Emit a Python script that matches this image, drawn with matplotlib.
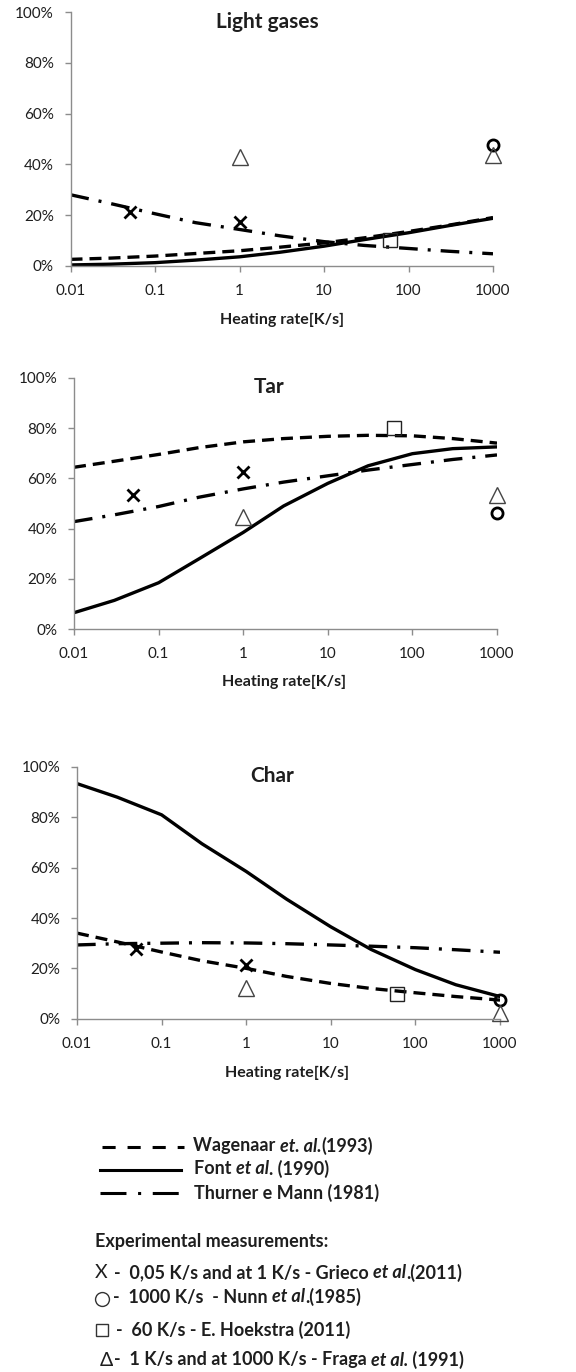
import matplotlib
matplotlib.use("Agg")
import matplotlib.pyplot as plt
from matplotlib.ticker import FixedLocator, FixedFormatter

plt.rcParams['font.family'] = ['Lato', 'DejaVu Sans']

W, H = 576, 1372

# heating rates (K/s) where the model curves are given
rates = [0.01, 0.03, 0.1, 0.3, 1, 3, 10, 30, 100, 300, 1000]

# ---------------------- model curves (fraction of product) ----------------------
gas_wagenaar = [2.5, 3.0, 3.8, 4.8, 5.9, 7.3, 9.0, 11.0, 13.5, 16.0, 19.0]
gas_font = [0.3, 0.6, 1.2, 2.2, 3.5, 5.3, 7.7, 10.3, 13.0, 15.8, 18.7]
gas_thurner = [28.0, 24.5, 20.5, 17.0, 14.3, 11.8, 9.5, 8.0, 6.8, 5.7, 4.7]

tar_wagenaar = [64.4, 66.8, 69.5, 72.2, 74.5, 75.8, 76.7, 77.1, 76.9, 75.8, 74.0]
tar_font = [6.6, 11.5, 18.5, 28.0, 38.5, 49.0, 58.0, 65.0, 69.8, 71.8, 72.5]
tar_thurner = [42.8, 45.5, 48.8, 52.5, 55.8, 58.5, 61.0, 63.3, 65.5, 67.5, 69.3]

char_wagenaar = [34.0, 30.5, 26.5, 23.0, 20.0, 16.8, 14.0, 12.0, 10.3, 8.8, 7.4]
char_font = [93.4, 88.0, 81.0, 69.5, 58.5, 47.5, 36.5, 27.5, 19.5, 13.5, 8.8]
char_thurner = [29.3, 29.8, 30.0, 30.2, 30.1, 29.8, 29.3, 28.8, 28.2, 27.4, 26.4]

# ---------------------- experimental points ----------------------
grieco_rates = [0.05, 1]
grieco_gas = [21.0, 17.2]
grieco_tar = [53.4, 62.4]
grieco_char = [27.6, 21.4]

nunn_rates = [1000]
nunn_gas = [47.7]
nunn_tar = [46.4]
nunn_char = [7.4]

hoekstra_rates = [60]
hoekstra_gas = [10.0]
hoekstra_tar = [80.0]
hoekstra_char = [9.8]

fraga_rates = [1, 1000]
fraga_gas = [43.0, 43.8]
fraga_tar = [44.8, 53.4]
fraga_char = [12.0, 2.1]

rate_ticks = [0.01, 0.1, 1, 10, 100, 1000]
rate_labels = ["0.01", "0.1", "1", "10", "100", "1000"]
pct_ticks = [0, 20, 40, 60, 80, 100]
pct_labels = ["0%", "20%", "40%", "60%", "80%", "100%"]

LW = 2.4
DASH = (0, (3.6, 2.1))
DASHDOT = (0, (5.6, 3.0, 0.9, 3.0))
GRID_GREY = "#8c8c8c"
TXT = "#1e1e1e"
KEY_SIZE = 13


def rect(l, t, r, b):
    return [l / W, 1 - b / H, (r - l) / W, (b - t) / H]


def panel(fig, box, title, wag, font, thur, grieco, nunn, hoek, fraga, title_xy):
    ax = fig.add_axes(rect(*box))
    ax.set_xscale("log")
    ax.plot(rates, wag, color="black", lw=LW, ls=DASH)
    ax.plot(rates, font, color="black", lw=LW, ls="-")
    ax.plot(rates, thur, color="black", lw=LW, ls=DASHDOT)

    ax.plot(grieco_rates, grieco, ls="none", marker="x", ms=8, mew=2.0,
            color="black", clip_on=False)
    ax.plot(nunn_rates, nunn, ls="none", marker="o", ms=8, mew=2.0,
            mfc="none", mec="black", clip_on=False)
    ax.plot(hoekstra_rates, hoek, ls="none", marker="s", ms=10, mew=1.0,
            mfc="none", mec="#222222", clip_on=False)
    ax.plot(fraga_rates, fraga, ls="none", marker="^", ms=11, mew=1.0,
            mfc="none", mec="#444444", clip_on=False)

    ax.set_xlim(0.01, 1000)
    ax.set_ylim(0, 100)
    ax.xaxis.set_major_locator(FixedLocator(rate_ticks))
    ax.xaxis.set_major_formatter(FixedFormatter(rate_labels))
    ax.xaxis.set_minor_locator(FixedLocator([]))
    ax.yaxis.set_major_locator(FixedLocator(pct_ticks))
    ax.yaxis.set_major_formatter(FixedFormatter(pct_labels))
    for s in ["top", "right"]:
        ax.spines[s].set_visible(False)
    for s in ["left", "bottom"]:
        ax.spines[s].set_color(GRID_GREY)
        ax.spines[s].set_linewidth(1.0)
    ax.tick_params(direction="out", length=4, width=1.0, color=GRID_GREY,
                   labelsize=11, labelcolor=TXT)
    ax.tick_params(axis="y", pad=8)
    ax.tick_params(axis="x", pad=9)
    ax.text(title_xy[0], title_xy[1], title, transform=ax.transAxes,
            ha="center", va="center", fontsize=15, fontweight="bold", color=TXT)
    return ax


fig = plt.figure(figsize=(W / 100, H / 100), dpi=100)

panel(fig, (70.5, 12.3, 493, 265.7), "Light gases", gas_wagenaar, gas_font,
      gas_thurner, grieco_gas, nunn_gas, hoekstra_gas, fraga_gas, (0.465, 0.962))
panel(fig, (74, 377.7, 497, 629.3), "Tar", tar_wagenaar, tar_font,
      tar_thurner, grieco_tar, nunn_tar, hoekstra_tar, fraga_tar, (0.461, 0.963))
panel(fig, (77, 767, 500, 1018.7), "Char", char_wagenaar, char_font,
      char_thurner, grieco_char, nunn_char, hoekstra_char, fraga_char, (0.461, 0.964))

# overlay in pixel units for axis titles and the key
lg = fig.add_axes([0, 0, 1, 1])
lg.set_xlim(0, W)
lg.set_ylim(H, 0)
lg.axis("off")

for xc, yc in [(282, 320), (284, 682), (287, 1073)]:
    lg.text(xc, yc, "Heating rate[K/s]", ha="center", va="center",
            fontsize=11.5, fontweight="bold", color=TXT)

renderer = fig.canvas.get_renderer()


def put_runs(x, y, runs, size=KEY_SIZE):
    # draw pieces of text one after another on the same baseline
    for s, weight, style in runs:
        t = lg.text(x, y, s, ha="left", va="center", fontsize=size,
                    fontweight=weight, fontstyle=style, color=TXT)
        x += t.get_window_extent(renderer).width


# line key
lg.plot([101.5, 184], [1147, 1147], color="black", lw=2.2, ls=(0, (4.3, 3.9)))
lg.plot([100, 181], [1170, 1170], color="black", lw=2.2, ls="-")
lg.plot([100, 181], [1193, 1193], color="black", lw=2.2, ls=(0, (8.5, 3.8, 1.0, 3.8)))

put_runs(193, 1146, [("Wagenaar ", "bold", "normal"), ("et. al.", "bold", "italic"),
                     ("(1993)", "bold", "normal")])
put_runs(194, 1169, [("Font ", "bold", "normal"), ("et al", "bold", "italic"),
                     (". (1990)", "bold", "normal")])
put_runs(194, 1193, [("Thurner e Mann (1981)", "bold", "normal")])

lg.text(95, 1242, "Experimental measurements:", ha="left", va="center",
        fontsize=KEY_SIZE, fontweight="bold", color=TXT)

# marker key
lg.text(95, 1273, "X", ha="left", va="center", fontsize=14, color=TXT)
put_runs(114, 1273, [("-  0,05 K/s and at 1 K/s - Grieco ", "bold", "normal"),
                     ("et al", "bold", "italic"), (".(2011)", "bold", "normal")])
lg.plot([101.5], [1299], marker="o", ms=10, mfc="none", mec="#333333", mew=1.0)
put_runs(113, 1297, [("-  1000 K/s  - Nunn ", "bold", "normal"),
                     ("et al", "bold", "italic"), (".(1985)", "bold", "normal")])
lg.plot([102], [1330], marker="s", ms=8.5, mfc="none", mec="#333333", mew=1.0)
put_runs(116, 1330, [("-  60 K/s - E. Hoekstra (2011)", "bold", "normal")])
lg.text(100, 1360, "\u0394", ha="left", va="center", fontsize=14, color=TXT)
put_runs(114, 1360, [("-  1 K/s and at 1000 K/s - Fraga ", "bold", "normal"),
                     ("et al.", "bold", "italic"), (" (1991)", "bold", "normal")])

fig.savefig("out.png", dpi=100)
